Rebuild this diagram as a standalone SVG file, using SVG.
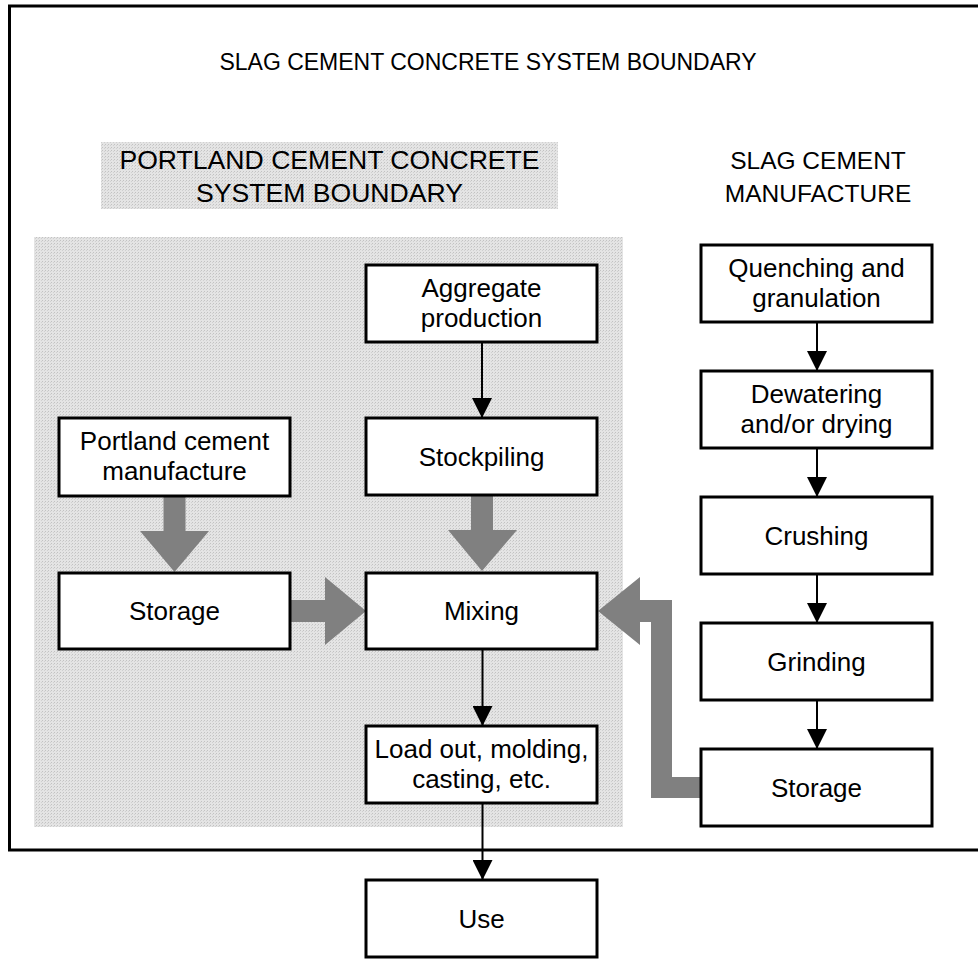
<svg xmlns="http://www.w3.org/2000/svg" width="978" height="967" viewBox="0 0 978 967">
<defs>
<pattern id="dots" width="3" height="3" patternUnits="userSpaceOnUse">
<rect width="3" height="3" fill="#e4e4e4"/>
<rect x="0" y="0" width="1" height="1" fill="#c2c2c2"/>
<rect x="2" y="1" width="1" height="1" fill="#d0d0d0"/>
</pattern>
<marker id="ah" viewBox="0 0 10 10" refX="10" refY="5" markerWidth="10" markerHeight="10" markerUnits="strokeWidth" orient="auto">
<path d="M0,0 L10,5 L0,10 Z" fill="#000"/>
</marker>
<style>
.box{fill:#fff;stroke:#000;stroke-width:3}
.t{font-family:"Liberation Sans",Arial,sans-serif;font-size:26px;fill:#000;text-anchor:middle}
.h{font-family:"Liberation Sans",Arial,sans-serif;font-size:23px;fill:#000;text-anchor:middle}
.p{font-family:"Liberation Sans",Arial,sans-serif;font-size:26.6px;fill:#000;text-anchor:middle}
.s{font-family:"Liberation Sans",Arial,sans-serif;font-size:24.5px;fill:#000;text-anchor:middle}
.thin{stroke:#000;stroke-width:2;fill:none;marker-end:url(#ah)}
.big{fill:#808080;stroke:none}
</style>
</defs>
<rect width="978" height="967" fill="#fff"/>
<g id="outer-boundary">
<rect x="9.5" y="6" width="980" height="844" fill="none" stroke="#000" stroke-width="3"/>
<text class="h" x="488" y="70">SLAG CEMENT CONCRETE SYSTEM BOUNDARY</text>
</g>
<g id="pcc-boundary">
<rect x="34" y="237" width="589" height="590" fill="url(#dots)"/>
<rect x="101" y="142" width="457" height="67" fill="url(#dots)"/>
<text class="p" x="329.5" y="169">PORTLAND CEMENT CONCRETE</text>
<text class="p" x="329.5" y="202">SYSTEM BOUNDARY</text>
</g>
<g id="slag-header">
<text class="s" x="818" y="169">SLAG CEMENT</text>
<text class="s" x="818" y="202">MANUFACTURE</text>
</g>
<g id="connectors">
<line class="thin" x1="482" y1="342" x2="482" y2="418"/>
<line class="thin" x1="482.5" y1="649" x2="482.5" y2="726"/>
<line class="thin" x1="482.5" y1="803" x2="482.5" y2="880"/>
<line class="thin" x1="817" y1="322" x2="817" y2="371"/>
<line class="thin" x1="817" y1="448" x2="817" y2="497"/>
<line class="thin" x1="817" y1="574" x2="817" y2="623"/>
<line class="thin" x1="817" y1="700" x2="817" y2="749"/>
<polygon class="big" points="163.5,496 185.5,496 185.5,531 209,531 174.5,572 140,531 163.5,531"/>
<polygon class="big" points="471,495 493,495 493,530 517,530 482,571 448,530 471,530"/>
<polygon class="big" points="290,600 325,600 325,577 366,611 325,645 325,622 290,622"/>
<polygon class="big" points="598,611 640,577 640,600 672,600 672,777 700,777 700,798 651,798 651,622 640,622 640,645"/>
</g>
<g id="aggregate"><rect class="box" x="366" y="265" width="231" height="77"/><text class="t" x="481.5" y="297">Aggregate</text><text class="t" x="481.5" y="327">production</text></g>
<g id="stockpiling"><rect class="box" x="366" y="418" width="231" height="77"/><text class="t" x="481.5" y="466">Stockpiling</text></g>
<g id="portland"><rect class="box" x="59" y="418" width="231" height="78"/><text class="t" x="174.5" y="450">Portland cement</text><text class="t" x="174.5" y="480">manufacture</text></g>
<g id="storage-pc"><rect class="box" x="59" y="573" width="231" height="76"/><text class="t" x="174.5" y="620">Storage</text></g>
<g id="mixing"><rect class="box" x="366" y="573" width="231" height="76"/><text class="t" x="481.5" y="620">Mixing</text></g>
<g id="loadout"><rect class="box" x="366" y="726" width="231" height="77"/><text class="t" x="481.5" y="758">Load out, molding,</text><text class="t" x="481.5" y="788">casting, etc.</text></g>
<g id="use"><rect class="box" x="366" y="880" width="231" height="77"/><text class="t" x="481.5" y="928">Use</text></g>
<g id="quenching"><rect class="box" x="701" y="245" width="231" height="77"/><text class="t" x="816.5" y="277">Quenching and</text><text class="t" x="816.5" y="307">granulation</text></g>
<g id="dewatering"><rect class="box" x="701" y="371" width="231" height="77"/><text class="t" x="816.5" y="403">Dewatering</text><text class="t" x="816.5" y="433">and/or drying</text></g>
<g id="crushing"><rect class="box" x="701" y="497" width="231" height="77"/><text class="t" x="816.5" y="545">Crushing</text></g>
<g id="grinding"><rect class="box" x="701" y="623" width="231" height="77"/><text class="t" x="816.5" y="671">Grinding</text></g>
<g id="storage-slag"><rect class="box" x="701" y="749" width="231" height="77"/><text class="t" x="816.5" y="797">Storage</text></g>
</svg>
